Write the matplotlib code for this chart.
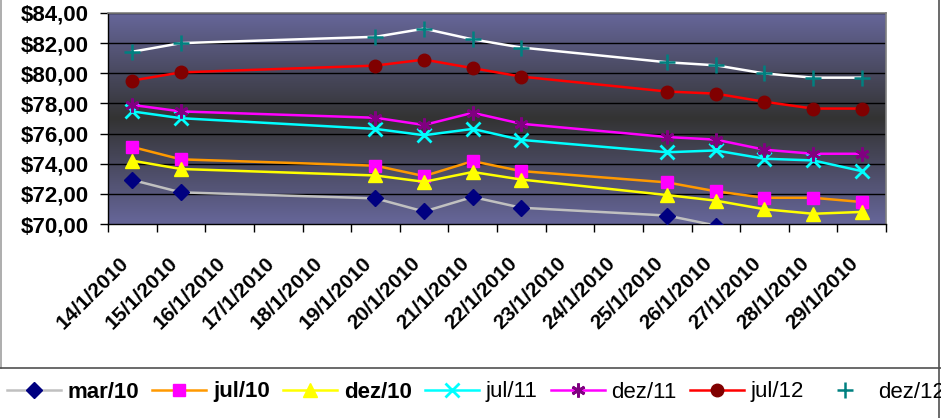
import numpy as np
import matplotlib
matplotlib.use("Agg")
import matplotlib.pyplot as plt
import matplotlib.transforms as mtransforms
from matplotlib.lines import Line2D
from matplotlib.colors import LinearSegmentedColormap

plt.rcParams['font.family'] = ['Liberation Sans', 'DejaVu Sans']

# categories on the date axis
dates = ["14/1/2010", "15/1/2010", "16/1/2010", "17/1/2010", "18/1/2010",
         "19/1/2010", "20/1/2010", "21/1/2010", "22/1/2010", "23/1/2010",
         "24/1/2010", "25/1/2010", "26/1/2010", "27/1/2010", "28/1/2010",
         "29/1/2010"]
# days that have quotes
obs_dates = ["14/1/2010", "15/1/2010", "19/1/2010", "20/1/2010", "21/1/2010",
             "22/1/2010", "25/1/2010", "26/1/2010", "27/1/2010", "28/1/2010",
             "29/1/2010"]

mar10 = [72.92, 72.10, 71.70, 70.83, 71.79, 71.08, 70.56, 69.90, 69.40, 69.30, 69.30]
jul10 = [75.11, 74.29, 73.87, 73.18, 74.17, 73.51, 72.76, 72.17, 71.74, 71.74, 71.46]
dez10 = [74.20, 73.65, 73.22, 72.80, 73.45, 72.95, 71.92, 71.55, 70.98, 70.68, 70.80]
jul11 = [77.47, 77.02, 76.31, 75.89, 76.31, 75.58, 74.76, 74.88, 74.33, 74.22, 73.51]
dez11 = [77.90, 77.47, 77.05, 76.57, 77.38, 76.65, 75.77, 75.60, 74.93, 74.66, 74.66]
jul12 = [79.52, 80.06, 80.51, 80.91, 80.34, 79.78, 78.79, 78.65, 78.11, 77.66, 77.66]
dez12 = [81.43, 82.00, 82.42, 82.96, 82.25, 81.71, 80.73, 80.53, 79.99, 79.71, 79.71]

yticks = [70, 72, 74, 76, 78, 80, 82, 84]

fig = plt.figure(figsize=(9.41, 4.18), dpi=100)
ax = fig.add_axes([108/941, 1 - 224/418, 778/941, 211/418])

# plot area gradient: slate blue at the edges, dark grey in the middle
cmap = LinearSegmentedColormap.from_list("bg", ["#666699", "#333333", "#666699"])
grad = np.linspace(0, 1, 256).reshape(-1, 1)
ax.imshow(grad, cmap=cmap, aspect='auto', extent=[-0.5, 15.5, 70, 84],
          origin='lower', zorder=0)

xpos = [dates.index(d) for d in obs_dates]

series = [
    ("mar/10", mar10, "#C0C0C0", dict(marker='D', mfc='#000080', mec='#000080', ms=8)),
    ("jul/10", jul10, "#FF9900", dict(marker='s', mfc='#FF00FF', mec='#FF00FF', ms=8.5)),
    ("dez/10", dez10, "#FFFF00", dict(marker='^', mfc='#FFFF00', mec='#FFFF00', ms=10)),
    ("jul/11", jul11, "#00FFFF", dict(marker='x', mfc='#00FFFF', mec='#00FFFF', ms=10, mew=2)),
    ("dez/11", dez11, "#FF00FF", dict(marker=(6, 2, 0), mfc='#800080', mec='#800080', ms=10, mew=2)),
    ("jul/12", jul12, "#FF0000", dict(marker='o', mfc='#800000', mec='#800000', ms=9)),
    ("dez/12", dez12, "#FFFFFF", dict(marker='+', mfc='#008080', mec='#008080', ms=11, mew=1.8)),
]

handles = []
for name, vals, col, mk in series:
    h, = ax.plot(xpos, vals, color=col, lw=1.8, label=name, zorder=3, **mk)
    handles.append(h)

ax.set_xlim(-0.5, 15.5)
ax.set_ylim(70, 84)
ax.set_yticks(yticks)
ax.set_yticklabels(["$%d,00" % v for v in yticks], fontsize=16, fontweight='bold')
for v in yticks[1:]:
    ax.axhline(v, color='black', lw=1, zorder=1)

ax.set_xticks(range(len(dates)))
ax.set_xticklabels(dates, rotation=45, ha='right', va='top', fontsize=15, fontweight='bold')
shift = mtransforms.ScaledTranslation(-9/100, 0, fig.dpi_scale_trans)
for lab in ax.get_xticklabels():
    lab.set_transform(lab.get_transform() + shift)
ax.set_xticks(np.arange(-0.5, 16, 1), minor=True)
ax.tick_params(axis='x', which='major', length=0, pad=21)
ax.tick_params(axis='x', which='minor', length=6, width=1, direction='out')
ax.tick_params(axis='y', length=6, width=1, direction='out', pad=8)

for s in ['left', 'bottom']:
    ax.spines[s].set_color('black')
    ax.spines[s].set_linewidth(1)
for s in ['top', 'right']:
    ax.spines[s].set_color('#808080')
    ax.spines[s].set_linewidth(1.2)

# chart frame
fig.add_artist(Line2D([1/941, 1/941], [1 - 368/418, 1], transform=fig.transFigure, color='#a0a0a0', lw=1.2))
fig.add_artist(Line2D([0, 1], [1 - 368/418, 1 - 368/418], transform=fig.transFigure, color='#505050', lw=1.2))
fig.add_artist(Line2D([939/941, 939/941], [0, 1], transform=fig.transFigure, color='#505050', lw=1.2))

leg = fig.legend(handles=handles, loc='center left', bbox_to_anchor=(0.0, 1 - 392/418),
                 ncol=7, frameon=False, fontsize=16, handlelength=2.43,
                 handletextpad=0.3, columnspacing=0.6, borderaxespad=0, borderpad=0.3)
for i, t in enumerate(leg.get_texts()):
    if i < 3:
        t.set_fontweight('bold')

fig.savefig("out.png", dpi=100)
